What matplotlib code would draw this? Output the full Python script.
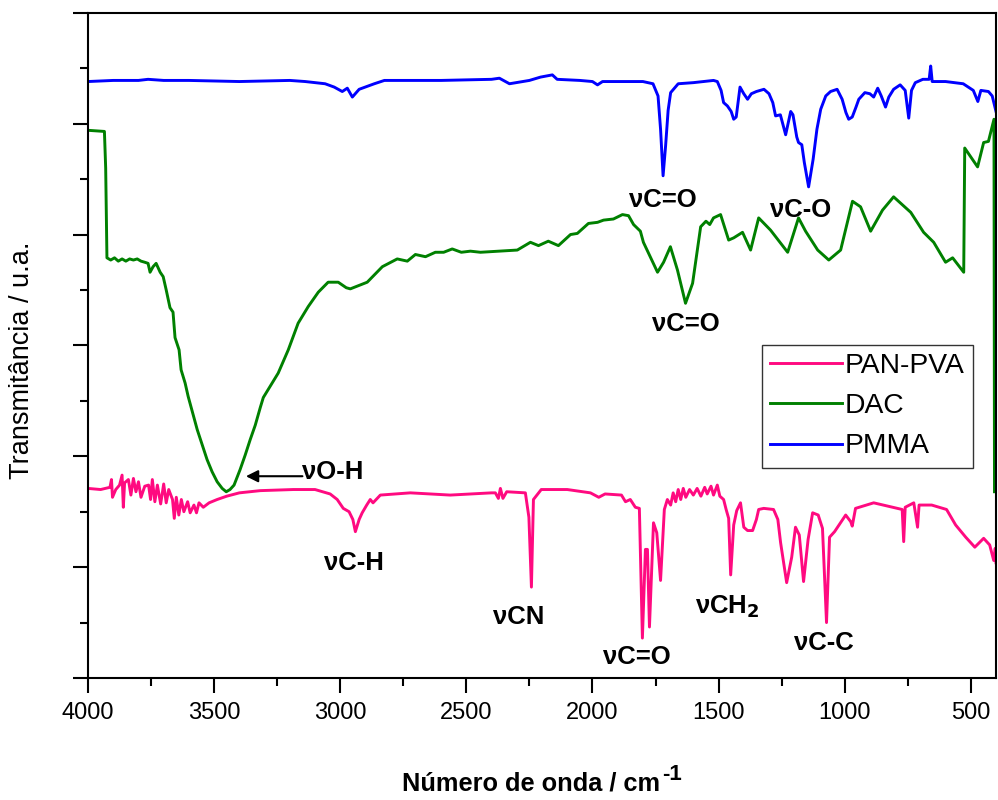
import matplotlib
matplotlib.use("Agg")
import matplotlib.pyplot as plt
from matplotlib.ticker import MultipleLocator

plt.rcParams['font.family'] = ['Liberation Sans', 'DejaVu Sans']

# PMMA spectrum (wavenumber, transmittance a.u.)
pmma_wn = [4000, 3900, 3800, 3762, 3700, 3600, 3400, 3200, 3139, 3060, 3024, 2992,
           2972, 2952, 2925, 2865, 2825, 2600, 2400, 2369, 2329, 2250, 2206, 2159,
           2140, 2050, 2000, 1980, 1960, 1900, 1800, 1760, 1740, 1730, 1720, 1710,
           1700, 1690, 1660, 1600, 1520, 1505, 1490, 1480, 1465, 1450, 1440, 1430,
           1415, 1400, 1385, 1370, 1350, 1320, 1300, 1285, 1274, 1255, 1234, 1214,
           1205, 1190, 1183, 1170, 1160, 1143, 1125, 1110, 1095, 1075, 1056, 1030,
           1010, 995, 984, 970, 955, 944, 920, 900, 885, 869, 855, 838, 825, 806,
           780, 760, 746, 735, 720, 690, 665, 659, 653, 600, 530, 490, 472, 460,
           430, 415, 400]
pmma_t = [5.38, 5.39, 5.39, 5.40, 5.39, 5.39, 5.38, 5.39, 5.38, 5.36, 5.33, 5.29,
          5.32, 5.24, 5.31, 5.36, 5.39, 5.39, 5.40, 5.41, 5.36, 5.39, 5.42, 5.44,
          5.40, 5.39, 5.38, 5.35, 5.38, 5.38, 5.38, 5.36, 5.25, 4.95, 4.53, 4.80,
          5.12, 5.28, 5.36, 5.37, 5.39, 5.38, 5.30, 5.19, 5.16, 5.11, 5.04, 5.06,
          5.33, 5.27, 5.22, 5.27, 5.29, 5.31, 5.27, 5.19, 5.07, 5.08, 4.90, 5.11,
          5.08, 4.88, 4.83, 4.81, 4.65, 4.43, 4.68, 4.95, 5.13, 5.25, 5.29, 5.31,
          5.22, 5.10, 5.04, 5.06, 5.15, 5.22, 5.28, 5.27, 5.24, 5.32, 5.25, 5.15,
          5.24, 5.31, 5.35, 5.30, 5.05, 5.30, 5.37, 5.40, 5.40, 5.52, 5.38, 5.38,
          5.36, 5.30, 5.20, 5.30, 5.29, 5.25, 5.11]

# DAC spectrum
dac_wn = [4000, 3935, 3930, 3925, 3910, 3895, 3880, 3865, 3850, 3835, 3820, 3805,
          3790, 3775, 3762, 3754, 3742, 3730, 3714, 3702, 3690, 3675, 3663, 3655,
          3639, 3631, 3615, 3603, 3567, 3528, 3508, 3488, 3468, 3452, 3437, 3421,
          3397, 3377, 3357, 3337, 3317, 3305, 3246, 3206, 3167, 3127, 3087, 3048,
          3008, 2976, 2960, 2893, 2833, 2774, 2734, 2702, 2662, 2623, 2590, 2556,
          2520, 2484, 2444, 2298, 2246, 2214, 2175, 2135, 2087, 2060, 2016, 1980,
          1956, 1917, 1881, 1857, 1837, 1810, 1798, 1742, 1718, 1691, 1663, 1631,
          1603, 1571, 1550, 1535, 1520, 1492, 1460, 1440, 1405, 1373, 1341, 1294,
          1226, 1183, 1155, 1107, 1063, 1016, 969, 937, 897, 850, 806, 738, 687,
          647, 600, 572, 528, 524, 473, 449, 430, 408, 406]
dac_t = [4.94, 4.93, 4.60, 3.79, 3.77, 3.79, 3.76, 3.78, 3.76, 3.78, 3.77, 3.78,
         3.76, 3.75, 3.74, 3.66, 3.71, 3.74, 3.66, 3.62, 3.50, 3.34, 3.30, 3.07,
         2.96, 2.78, 2.66, 2.54, 2.24, 1.97, 1.86, 1.77, 1.71, 1.68, 1.70, 1.74,
         1.88, 2.01, 2.15, 2.28, 2.44, 2.53, 2.75, 2.96, 3.20, 3.35, 3.48, 3.57,
         3.57, 3.52, 3.51, 3.57, 3.71, 3.78, 3.76, 3.82, 3.80, 3.84, 3.84, 3.87,
         3.84, 3.85, 3.84, 3.86, 3.93, 3.90, 3.94, 3.90, 4.00, 4.01, 4.10, 4.11,
         4.13, 4.14, 4.18, 4.17, 4.09, 4.03, 3.93, 3.66, 3.75, 3.89, 3.68, 3.38,
         3.56, 4.07, 4.12, 4.09, 4.15, 4.18, 3.95, 3.97, 4.02, 3.86, 4.15, 4.04,
         3.84, 4.15, 4.03, 3.86, 3.77, 3.86, 4.30, 4.25, 4.03, 4.22, 4.34, 4.20,
         4.02, 3.93, 3.75, 3.79, 3.66, 4.78, 4.61, 4.83, 4.84, 5.04, 1.68]

# PAN-PVA spectrum
pan_wn = [4000, 3950, 3913, 3907, 3903, 3890, 3875, 3865, 3860, 3855, 3840, 3830,
          3820, 3810, 3800, 3790, 3775, 3760, 3752, 3745, 3735, 3725, 3712, 3700,
          3690, 3680, 3665, 3658, 3650, 3640, 3630, 3620, 3605, 3595, 3580, 3570,
          3560, 3543, 3520, 3488, 3450, 3400, 3317, 3186, 3100, 3040, 3012, 2988,
          2965, 2950, 2940, 2925, 2913, 2895, 2881, 2870, 2841, 2722, 2564, 2400,
          2385, 2373, 2365, 2355, 2340, 2266, 2252, 2242, 2234, 2203, 2100, 2008,
          1975, 1950, 1885, 1869, 1850, 1830, 1814, 1802, 1790, 1782, 1774, 1758,
          1745, 1730, 1715, 1703, 1690, 1680, 1670, 1660, 1650, 1640, 1630, 1615,
          1600, 1585, 1570, 1555, 1545, 1530, 1520, 1505, 1495, 1480, 1470, 1460,
          1452, 1440, 1428, 1413, 1400, 1385, 1365, 1350, 1341, 1321, 1282, 1265,
          1254, 1230, 1210, 1195, 1180, 1163, 1145, 1127, 1105, 1088, 1072, 1060,
          1040, 996, 976, 970, 957, 885, 790, 772, 766, 760, 726, 711, 705, 655,
          596, 560, 520, 484, 449, 425, 409, 403, 400]
pan_t = [1.71, 1.70, 1.72, 1.79, 1.63, 1.70, 1.74, 1.83, 1.54, 1.76, 1.79, 1.65,
         1.80, 1.68, 1.77, 1.63, 1.73, 1.74, 1.61, 1.79, 1.59, 1.74, 1.57, 1.75,
         1.58, 1.70, 1.61, 1.44, 1.63, 1.47, 1.61, 1.50, 1.59, 1.49, 1.56, 1.49,
         1.58, 1.54, 1.58, 1.61, 1.64, 1.67, 1.69, 1.70, 1.70, 1.66, 1.61, 1.53,
         1.50, 1.43, 1.32, 1.43, 1.49, 1.56, 1.61, 1.58, 1.65, 1.67, 1.65, 1.67,
         1.67, 1.62, 1.71, 1.62, 1.68, 1.67, 1.45, 0.82, 1.61, 1.70, 1.70, 1.67,
         1.63, 1.66, 1.65, 1.59, 1.61, 1.54, 1.53, 0.36, 1.16, 1.16, 0.46, 1.40,
         1.31, 0.88, 1.52, 1.61, 1.56, 1.67, 1.59, 1.70, 1.61, 1.71, 1.63, 1.70,
         1.65, 1.71, 1.64, 1.72, 1.66, 1.73, 1.65, 1.74, 1.64, 1.61, 1.52, 1.44,
         0.93, 1.38, 1.51, 1.58, 1.36, 1.33, 1.33, 1.43, 1.52, 1.53, 1.52, 1.43,
         1.22, 0.86, 1.09, 1.36, 1.29, 0.87, 1.25, 1.49, 1.47, 1.35, 0.50, 1.27,
         1.32, 1.47, 1.41, 1.37, 1.53, 1.58, 1.53, 1.52, 1.23, 1.54, 1.58, 1.36,
         1.56, 1.56, 1.52, 1.38, 1.27, 1.18, 1.26, 1.20, 1.06, 1.17, 1.04]

fig = plt.figure(figsize=(9.98, 8.0), dpi=100)
ax = fig.add_axes([0.0882, 0.1525, 0.9098, 0.8315])

ax.plot(pan_wn, pan_t, color='#FF0A80', lw=2.1, label='PAN-PVA')
ax.plot(dac_wn, dac_t, color='#008000', lw=2.1, label='DAC')
ax.plot(pmma_wn, pmma_t, color='#0000FF', lw=2.1, label='PMMA')

ax.set_xlim(4000, 400)
ax.set_ylim(0, 6)
ax.xaxis.set_major_locator(MultipleLocator(500))
ax.xaxis.set_minor_locator(MultipleLocator(250))
ax.yaxis.set_major_locator(MultipleLocator(1))
ax.yaxis.set_minor_locator(MultipleLocator(0.5))
ax.set_yticklabels([])
ax.tick_params(which='major', direction='out', length=11, width=1.5, labelsize=17, pad=6)
ax.tick_params(which='minor', direction='out', length=6, width=1.5)
ax.tick_params(top=False, right=False)
for s in ax.spines.values():
    s.set_linewidth(1.5)

ax.set_xlabel('Número de onda / cm', fontsize=18.3, fontweight='bold')
ax.xaxis.set_label_coords(0.5 - 11 / 908, -0.14)
ax.set_ylabel('Transmitância / u.a.', fontsize=19.5)
ax.yaxis.set_label_coords(-0.058, 0.477)

lab = dict(fontsize=18.5, fontweight='bold', ha='center', va='center')
ax.text(3028, 1.86, 'νO-H', **lab)
ax.annotate('', xy=(3385, 1.82), xytext=(3139, 1.82),
            arrowprops=dict(arrowstyle='-|>', color='black', lw=1.5, mutation_scale=18))
ax.text(2944, 1.04, 'νC-H', **lab)
ax.text(2292, 0.55, 'νCN', **lab)
ax.text(1822, 0.19, 'νC=O', **lab)
ax.text(1464, 0.64, 'νCH$_\\mathbf{2}$', **lab)
ax.text(1084, 0.32, 'νC-C', **lab)
ax.text(1722, 4.31, 'νC=O', **lab)
ax.text(1175, 4.22, 'νC-O', **lab)
ax.text(1631, 3.19, 'νC=O', **lab)

leg = ax.legend(loc='upper left', bbox_to_anchor=(0.742, 0.501), fontsize=20.3,
                handlelength=2.55, handletextpad=0.1, labelspacing=0.5,
                fancybox=False, edgecolor='black', borderpad=0.3, borderaxespad=0)
leg.get_frame().set_linewidth(1.0)

# superscript "-1" after the x label
fig.canvas.draw()
bb = ax.xaxis.label.get_window_extent()
W, H = fig.get_size_inches() * fig.dpi
fig.text((bb.x1 + 2) / W, (bb.y1 - 3) / H, '-1', fontsize=16, fontweight='bold',
         ha='left', va='center')

fig.savefig('out.png', dpi=100)
